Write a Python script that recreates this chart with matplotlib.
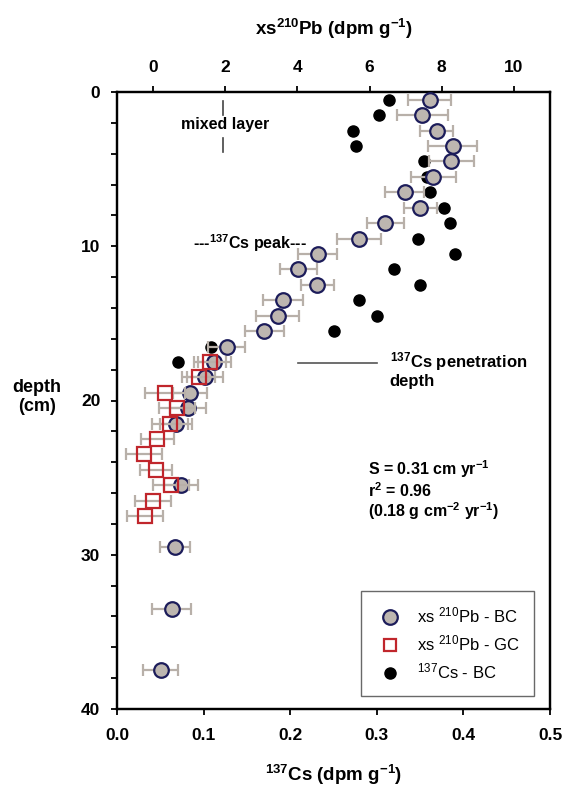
import matplotlib
matplotlib.use("Agg")
import matplotlib.pyplot as plt
from matplotlib.ticker import MultipleLocator
from matplotlib.lines import Line2D

plt.rcParams['font.family'] = ['Liberation Sans', 'DejaVu Sans']
plt.rcParams['mathtext.fontset'] = 'custom'
plt.rcParams['mathtext.rm'] = 'Liberation Sans'
plt.rcParams['mathtext.bf'] = 'Liberation Sans:bold'
plt.rcParams['mathtext.default'] = 'regular'

# xs210Pb box core (BC)
bc_depth = [0.5, 1.5, 2.5, 3.5, 4.5, 5.5, 6.5, 7.5, 8.5, 9.5, 10.5, 11.5, 12.5,
            13.5, 14.5, 15.5, 16.5, 17.5, 18.5, 19.5, 20.5, 21.5, 25.5, 29.5, 33.5, 37.5]
bc_pb = [7.67, 7.46, 7.86, 8.30, 8.27, 7.77, 6.98, 7.40, 6.43, 5.71, 4.56, 4.03, 4.55,
         3.61, 3.45, 3.08, 2.04, 1.70, 1.44, 1.02, 0.98, 0.64, 0.77, 0.61, 0.52, 0.21]
bc_err = [0.60, 0.70, 0.45, 0.69, 0.62, 0.62, 0.54, 0.46, 0.51, 0.60, 0.54, 0.52, 0.46,
          0.55, 0.59, 0.54, 0.51, 0.45, 0.50, 0.48, 0.50, 0.44, 0.48, 0.42, 0.54, 0.48]

# xs210Pb gravity core (GC)
gc_depth = [17.5, 18.5, 19.5, 20.5, 21.5, 22.5, 23.5, 24.5, 25.5, 26.5, 27.5]
gc_pb = [1.58, 1.26, 0.33, 0.66, 0.47, 0.12, -0.24, 0.08, 0.49, -0.01, -0.22]
gc_err = [0.45, 0.45, 0.55, 0.50, 0.50, 0.45, 0.50, 0.45, 0.50, 0.50, 0.50]

# 137Cs box core
cs_depth = [0.5, 1.5, 2.5, 3.5, 4.5, 5.5, 6.5, 7.5, 8.5, 9.5, 10.5, 11.5, 12.5,
            13.5, 14.5, 15.5, 16.5, 17.5]
cs_val = [0.314, 0.302, 0.273, 0.276, 0.354, 0.358, 0.361, 0.378, 0.385, 0.347, 0.390,
          0.320, 0.350, 0.280, 0.300, 0.250, 0.109, 0.071]

W, H = 565, 788
fig = plt.figure(figsize=(W / 100, H / 100), dpi=100)
ax = fig.add_axes([117 / W, 1 - 709 / H, (550 - 117) / W, (709 - 92) / H])
axt = ax.twiny()

err_col = '#b8b0a9'
ax.plot(cs_val, cs_depth, 'o', color='black', ms=8, zorder=3)

axt.errorbar(bc_pb, bc_depth, xerr=bc_err, fmt='o', ms=10.5, mfc='#bdb6b0',
             mec='#1c1c5a', mew=1.6, ecolor=err_col, elinewidth=1.6,
             capsize=4, capthick=1.6, zorder=3)
axt.errorbar(gc_pb, gc_depth, xerr=gc_err, fmt='s', ms=10, mfc='none',
             mec='#c0262c', mew=1.6, ecolor=err_col, elinewidth=1.6,
             capsize=4, capthick=1.6, zorder=4)

ax.set_xlim(0, 0.5)
ax.set_ylim(40, 0)
axt.set_xlim(-1, 11)

ax.xaxis.set_major_locator(MultipleLocator(0.1))
ax.xaxis.set_major_formatter(plt.FormatStrFormatter('%.1f'))
ax.yaxis.set_major_locator(MultipleLocator(10))
ax.yaxis.set_minor_locator(MultipleLocator(2))
axt.set_xticks([0, 2, 4, 6, 8, 10])

for a in (ax, axt):
    for s in a.spines.values():
        s.set_linewidth(1.6)
ax.tick_params(axis='x', which='both', length=4, width=1.3, pad=10, labelsize=12.5)
ax.tick_params(axis='y', which='both', length=4, width=1.3, pad=8, labelsize=12.5)
axt.tick_params(axis='x', length=4, width=1.3, pad=8, labelsize=12.5)
for t in ax.get_xticklabels() + ax.get_yticklabels() + axt.get_xticklabels():
    t.set_fontweight('bold')

axt.set_xlabel(r'xs$^{\mathbf{210}}$Pb (dpm g$^{\mathbf{-1}}$)', fontsize=13.5,
               fontweight='bold', labelpad=18)
ax.set_xlabel(r'$^{\mathbf{137}}$Cs (dpm g$^{\mathbf{-1}}$)', fontsize=13.5,
              fontweight='bold', labelpad=14)
fig.text(37 / W, 1 - 397 / H, 'depth\n(cm)', ha='center', va='center',
         fontsize=13, fontweight='bold', linespacing=1.15)

# mixed layer marker
axt.plot([1.93, 1.93], [0.6, 1.5], color='#444444', lw=1.2)
axt.plot([1.93, 1.93], [3.0, 3.9], color='#444444', lw=1.2)
axt.text(2.0, 2.1, 'mixed layer', ha='center', va='center', fontsize=11.5,
         fontweight='bold')
axt.text(2.7, 9.8, r'---$^{\mathbf{137}}$Cs peak---', ha='center', va='center',
         fontsize=11.5, fontweight='bold')

# penetration depth
ax.plot([0.2087, 0.3001], [17.6, 17.6], color='#555555', lw=1.2)
ax.text(0.315, 17.85, '$^{\\mathbf{137}}$Cs penetration', ha='left',
        va='baseline', fontsize=12, fontweight='bold')
ax.text(0.315, 19.05, 'depth', ha='left', va='baseline', fontsize=12,
        fontweight='bold')

# fit statistics
ax.text(0.29, 24.8, 'S = 0.31 cm yr$^{\\mathbf{-1}}$', ha='left', va='baseline',
        fontsize=11.5, fontweight='bold')
ax.text(0.29, 26.25, 'r$^{\\mathbf{2}}$ = 0.96', ha='left', va='baseline',
        fontsize=11.5, fontweight='bold')
ax.text(0.29, 27.55, '(0.18 g cm$^{\\mathbf{-2}}$ yr$^{\\mathbf{-1}}$)', ha='left',
        va='baseline', fontsize=11.5, fontweight='bold')

h1 = Line2D([], [], marker='o', ls='none', ms=10.5, mfc='#bdb6b0', mec='#1c1c5a', mew=1.6)
h2 = Line2D([], [], marker='s', ls='none', ms=9, mfc='none', mec='#c0262c', mew=1.6)
h3 = Line2D([], [], marker='o', ls='none', ms=8, color='black')
leg = axt.legend([h1, h2, h3], ['xs $^{210}$Pb - BC', 'xs $^{210}$Pb - GC',
                                 '$^{137}$Cs - BC'],
                 loc='lower right', bbox_to_anchor=(0.963, 0.021), fontsize=12,
                 frameon=True, fancybox=False, edgecolor='#444444',
                 borderpad=0.85, handletextpad=0.7, labelspacing=0.5,
                 borderaxespad=0.0, handlelength=1.8)
leg.get_frame().set_linewidth(1.0)

fig.savefig('out.png', dpi=100)
